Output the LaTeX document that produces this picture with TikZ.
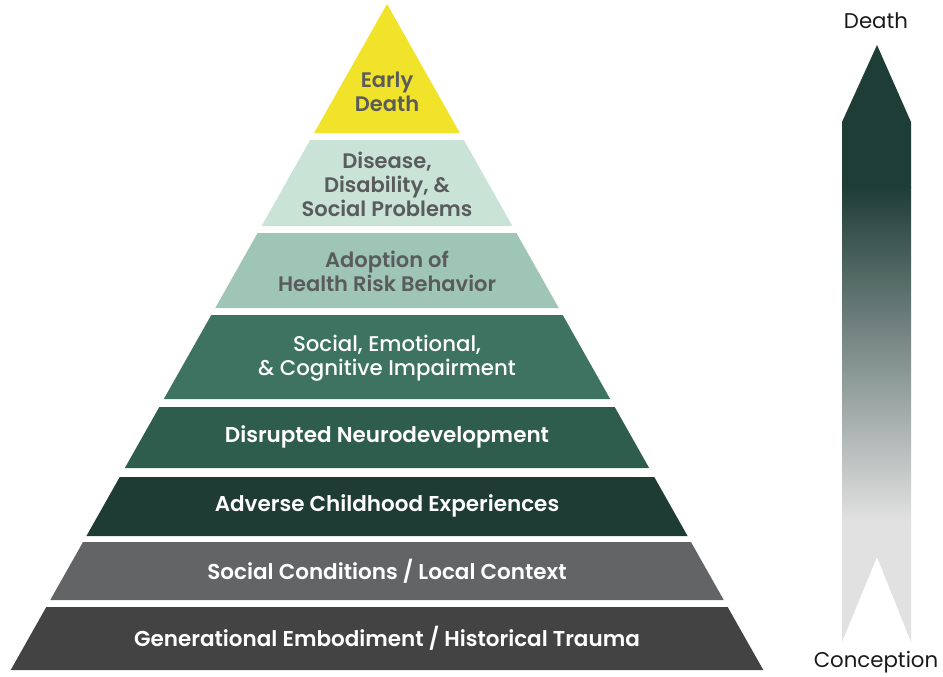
\documentclass[tikz,border=0pt]{standalone}
\usepackage{fontspec}
\setmainfont{Poppins}[Ligatures=NoCommon, BoldFont={Poppins SemiBold}]
\newfontfamily\medfont{Poppins Medium}[Ligatures=NoCommon]
\definecolor{cyellow}{HTML}{F1E32A}
\definecolor{cdisease}{HTML}{C9E4D7}
\definecolor{cadopt}{HTML}{9EC5B5}
\definecolor{csocemo}{HTML}{3E7361}
\definecolor{cdisrupt}{HTML}{2E5D4D}
\definecolor{cace}{HTML}{1F3C34}
\definecolor{csoccond}{HTML}{636466}
\definecolor{cgen}{HTML}{434343}
\definecolor{ctextgray}{HTML}{5A5B5D}
\definecolor{carrowdark}{HTML}{1F3D37}
\definecolor{carrowlight}{HTML}{E1E1E1}
\definecolor{clabel}{HTML}{1A1A1A}
\newcommand\pyrlayer[3]{%
  \fill[#3] ({387-0.565*(#1-4)},#1) -- ({387+0.565*(#1-4)},#1) --
    ({387+0.565*(#2-4)},#2) -- ({387-0.565*(#2-4)},#2) -- cycle;}
\tikzset{
  layertext/.style={align=center, inner sep=0pt,
    font=\bfseries\fontsize{21.5}{24}\selectfont},
  toplayertext/.style={layertext, font=\bfseries\fontsize{21}{24}\selectfont},
  darktext/.style={toplayertext, text=ctextgray},
  lighttext/.style={layertext, text=white},
  sidelabel/.style={inner sep=0pt, text=clabel, font=\fontsize{21.3}{24}\selectfont}
}
\begin{document}
\begin{tikzpicture}[x=1pt,y=-1pt]
\useasboundingbox (0,0) rectangle (943,677);
% pyramid
\fill[cyellow] (387,4) -- ({387+0.565*129},133) -- ({387-0.565*129},133) -- cycle;
\pyrlayer{140}{226}{cdisease}
\pyrlayer{233}{308}{cadopt}
\pyrlayer{315}{399}{csocemo}
\pyrlayer{407}{468}{cdisrupt}
\pyrlayer{477}{536}{cace}
\pyrlayer{542}{600}{csoccond}
\pyrlayer{607}{670}{cgen}
\node[darktext] (early) at (387,92) {Early\\Death};
\node[darktext] (disease) at (387,184) {Disease,\\Disability, \&\\Social Problems};
\node[darktext] (adopt) at (387,271) {Adoption of\\Health Risk Behavior};
\node[lighttext, font=\medfont\fontsize{21.3}{24}\selectfont] (socemo) at (387,358) {Social, Emotional,\\\& Cognitive Impairment};
\node[lighttext] (disrupt) at (387,437) {Disrupted Neurodevelopment};
\node[lighttext] (ace) at (387,506) {Adverse Childhood Experiences};
\node[lighttext] (soccond) at (387,571) {Social Conditions / Local Context};
\node[lighttext] (gen) at (387,638) {Generational Embodiment / Historical Trauma};
% arrow
\begin{scope}
\clip (842,122) -- (877,45) -- (911,122) -- (911,642) -- (877,557) -- (842,642) -- cycle;
\fill[carrowdark] (835,40) rectangle (920,188);
\shade[top color=carrowdark, bottom color=carrowlight] (835,187) rectangle (920,521);
\fill[carrowlight] (835,520) rectangle (920,650);
\end{scope}
\node[sidelabel] (death) at (876,21) {Death};
\node[sidelabel] (conception) at (876,662) {Conception};
\end{tikzpicture}
\end{document}
